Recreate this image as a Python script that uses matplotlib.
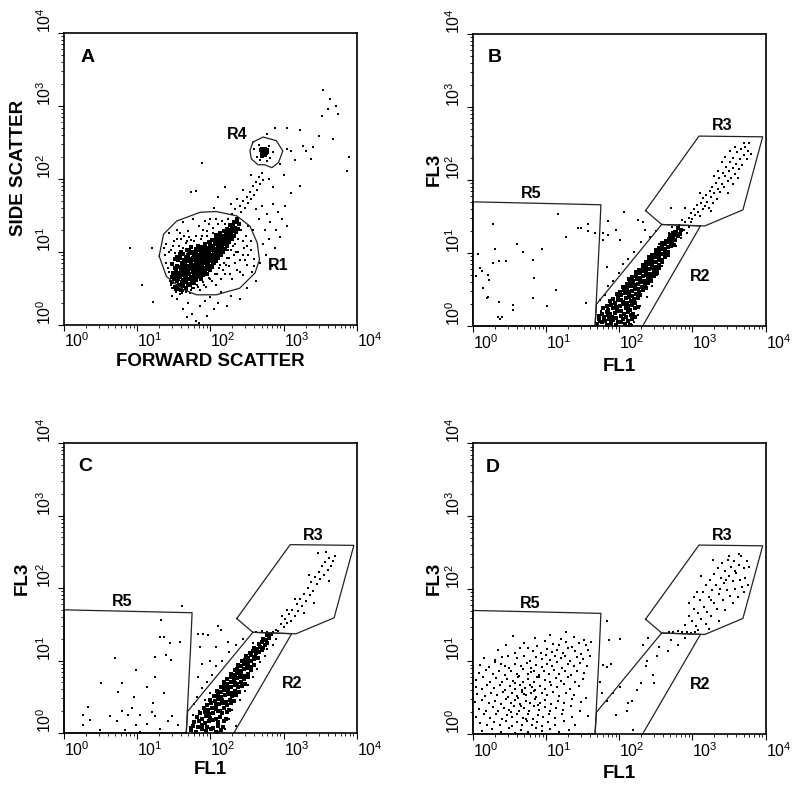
import numpy as np
import matplotlib
matplotlib.use('Agg')
import matplotlib.pyplot as plt

# Flow cytometry dot plots (four panels), values stored as log10 of channel value

plt.rcParams['font.family'] = ['Liberation Sans', 'DejaVu Sans']
plt.rcParams['mathtext.default'] = 'regular'

# ---- gates (log10 units) ----
gate_r1 = [(1.30, 0.94), (1.36, 1.24), (1.54, 1.42), (1.86, 1.54), (2.08, 1.55), (2.36, 1.49),
           (2.54, 1.35), (2.64, 1.12), (2.67, 0.89), (2.61, 0.71), (2.40, 0.50), (2.08, 0.41),
           (1.81, 0.41), (1.61, 0.49), (1.40, 0.66), (1.30, 0.94)]
gate_r4 = [(2.58, 2.50), (2.72, 2.57), (2.90, 2.52), (2.99, 2.38), (2.93, 2.22), (2.84, 2.15),
           (2.74, 2.19), (2.65, 2.19), (2.56, 2.27), (2.54, 2.38), (2.58, 2.50)]
gate_r5 = [(0.0, 1.70), (0.45, 1.69), (1.32, 1.67), (1.75, 1.66), (1.73, 1.20), (1.70, 0.60),
           (1.67, 0.0), (0.0, 0.0), (0.0, 1.70)]
gate_r2 = [(1.67, 0.0), (1.69, 0.30), (2.58, 1.39), (3.11, 1.37), (2.32, 0.0)]
gate_r3 = [(2.36, 1.58), (3.09, 2.60), (3.96, 2.59), (3.69, 1.59), (3.17, 1.37), (2.58, 1.39),
           (2.36, 1.58)]

# ---- panel A: forward scatter vs side scatter ----
a_core = [(1.48, 0.58), (1.49, 0.71), (1.47, 0.83), (1.48, 0.66),
          (1.51, 0.52), (1.50, 0.63), (1.52, 0.77), (1.51, 0.90), (1.50, 0.70),
          (1.54, 0.49), (1.55, 0.60), (1.53, 0.68), (1.54, 0.81), (1.55, 0.93), (1.53, 0.74),
          (1.57, 0.55), (1.56, 0.62), (1.58, 0.71), (1.57, 0.79), (1.56, 0.88), (1.58, 0.97), (1.57, 0.66),
          (1.60, 0.47), (1.61, 0.58), (1.59, 0.65), (1.60, 0.73), (1.61, 0.84), (1.59, 0.91), (1.60, 1.00), (1.62, 0.69),
          (1.63, 0.53), (1.62, 0.61), (1.64, 0.68), (1.63, 0.76), (1.62, 0.82), (1.64, 0.89), (1.63, 0.97), (1.65, 0.72),
          (1.66, 0.50), (1.67, 0.59), (1.65, 0.64), (1.66, 0.71), (1.67, 0.78), (1.65, 0.85), (1.66, 0.93), (1.68, 1.03), (1.67, 0.67),
          (1.69, 0.56), (1.68, 0.62), (1.70, 0.69), (1.69, 0.74), (1.68, 0.81), (1.70, 0.87), (1.69, 0.95), (1.71, 1.01), (1.70, 0.77),
          (1.72, 0.54), (1.73, 0.63), (1.71, 0.70), (1.72, 0.76), (1.73, 0.83), (1.71, 0.90), (1.72, 0.98), (1.74, 1.06), (1.73, 0.66),
          (1.75, 0.59), (1.74, 0.66), (1.76, 0.72), (1.75, 0.79), (1.74, 0.85), (1.76, 0.92), (1.75, 1.00), (1.77, 0.75), (1.76, 0.88),
          (1.78, 0.57), (1.79, 0.64), (1.77, 0.71), (1.78, 0.77), (1.79, 0.82), (1.77, 0.89), (1.78, 0.95), (1.80, 1.04), (1.79, 0.68),
          (1.81, 0.61), (1.80, 0.68), (1.82, 0.74), (1.81, 0.80), (1.80, 0.86), (1.82, 0.92), (1.81, 0.99), (1.83, 1.08), (1.82, 0.83),
          (1.84, 0.65), (1.85, 0.71), (1.83, 0.77), (1.84, 0.83), (1.85, 0.89), (1.83, 0.95), (1.84, 1.02), (1.86, 0.74), (1.85, 0.92),
          (1.87, 0.63), (1.86, 0.70), (1.88, 0.76), (1.87, 0.81), (1.86, 0.87), (1.88, 0.93), (1.87, 0.98), (1.89, 1.06), (1.88, 0.84),
          (1.90, 0.68), (1.91, 0.74), (1.89, 0.80), (1.90, 0.86), (1.91, 0.91), (1.89, 0.97), (1.90, 1.03), (1.92, 1.11), (1.91, 0.77),
          (1.93, 0.72), (1.92, 0.78), (1.94, 0.84), (1.93, 0.89), (1.92, 0.95), (1.94, 1.01), (1.93, 1.07), (1.95, 0.92),
          (1.96, 0.70), (1.97, 0.76), (1.95, 0.82), (1.96, 0.88), (1.97, 0.93), (1.95, 0.99), (1.96, 1.05), (1.98, 1.13), (1.97, 0.85),
          (1.99, 0.75), (1.98, 0.81), (2.00, 0.87), (1.99, 0.92), (1.98, 0.98), (2.00, 1.04), (1.99, 1.10), (2.01, 0.95),
          (2.02, 0.79), (2.03, 0.85), (2.01, 0.91), (2.02, 0.96), (2.03, 1.02), (2.01, 1.08), (2.02, 1.16), (2.04, 0.88),
          (2.05, 0.84), (2.04, 0.90), (2.06, 0.95), (2.05, 1.01), (2.04, 1.06), (2.06, 1.12), (2.05, 0.98), (2.07, 1.19),
          (2.08, 0.87), (2.09, 0.93), (2.07, 0.99), (2.08, 1.04), (2.09, 1.10), (2.07, 1.16), (2.08, 1.23),
          (2.11, 0.91), (2.10, 0.97), (2.12, 1.03), (2.11, 1.08), (2.10, 1.14), (2.12, 1.20), (2.11, 1.00),
          (2.14, 0.95), (2.15, 1.01), (2.13, 1.07), (2.14, 1.12), (2.15, 1.18), (2.13, 1.25), (2.14, 1.04),
          (2.17, 1.00), (2.16, 1.06), (2.18, 1.11), (2.17, 1.16), (2.16, 1.22), (2.18, 1.29),
          (2.20, 1.04), (2.21, 1.10), (2.19, 1.15), (2.20, 1.20), (2.21, 1.26), (2.19, 1.13),
          (2.23, 1.08), (2.22, 1.14), (2.24, 1.19), (2.23, 1.25), (2.22, 1.31),
          (2.26, 1.13), (2.27, 1.18), (2.25, 1.24), (2.26, 1.30), (2.27, 1.36),
          (2.29, 1.17), (2.28, 1.23), (2.30, 1.28), (2.29, 1.34),
          (2.32, 1.22), (2.33, 1.28), (2.31, 1.35), (2.32, 1.41),
          (2.35, 1.27), (2.34, 1.33), (2.36, 1.40),
          (2.38, 1.31), (2.39, 1.38), (2.37, 1.45)]
a_r4_core = [(2.70, 2.37), (2.72, 2.39), (2.74, 2.36), (2.73, 2.40), (2.75, 2.38), (2.71, 2.35),
             (2.76, 2.35), (2.72, 2.33), (2.74, 2.41), (2.77, 2.39), (2.69, 2.39), (2.73, 2.36),
             (2.75, 2.33), (2.70, 2.41), (2.78, 2.36), (2.71, 2.31)]
a_sparse = [(1.38, 0.95), (1.42, 0.78), (1.40, 1.10), (1.45, 0.60), (1.46, 1.02), (1.44, 1.25), (1.48, 0.50),
            (1.50, 1.15), (1.52, 0.98), (1.53, 0.45), (1.55, 1.30), (1.57, 1.08), (1.58, 0.42), (1.60, 1.18),
            (1.62, 1.40), (1.63, 0.46), (1.66, 1.12), (1.68, 0.48), (1.70, 1.28), (1.72, 0.44), (1.74, 1.16),
            (1.76, 1.45), (1.78, 0.50), (1.80, 1.22), (1.82, 0.55), (1.85, 1.35), (1.86, 0.48), (1.88, 1.22),
            (1.90, 0.58), (1.92, 1.42), (1.94, 0.52), (1.96, 1.28), (1.98, 0.64), (2.00, 1.45), (2.02, 0.60),
            (2.04, 1.32), (2.06, 0.70), (2.08, 0.55), (2.10, 1.38), (2.12, 0.78), (2.14, 0.62), (2.16, 1.42),
            (2.18, 0.85), (2.20, 0.70), (2.22, 0.92), (2.24, 1.45), (2.26, 0.80), (2.28, 1.02), (2.30, 0.62),
            (2.32, 0.95), (2.34, 1.10), (2.36, 0.75), (2.38, 1.18), (2.40, 0.88), (2.42, 1.30), (2.44, 0.68),
            (2.46, 1.05), (2.48, 1.22), (2.50, 0.82), (2.52, 0.95), (2.55, 1.15), (2.57, 0.72), (2.58, 1.30),
            (2.60, 0.90), (1.47, 0.70), (1.52, 0.88), (1.56, 0.60), (1.62, 1.05), (1.68, 1.15), (1.75, 0.50),
            (2.18, 0.98), (2.25, 0.92), (2.35, 1.00), (2.45, 0.95), (2.50, 1.08),
            (1.40, 0.85), (1.43, 1.00), (1.46, 0.55), (1.49, 1.08), (1.51, 0.47), (1.54, 1.18), (1.58, 1.25),
            (1.61, 0.44), (1.64, 1.22), (1.67, 0.45), (1.71, 1.20), (1.74, 0.48), (1.78, 1.15), (1.83, 0.52),
            (1.87, 1.18), (1.91, 0.55), (1.95, 1.22), (2.00, 0.62), (2.04, 1.25), (2.09, 0.70), (2.13, 0.82),
            (2.17, 0.75), (2.21, 0.82), (2.24, 1.02), (2.27, 0.70), (2.31, 1.08), (2.34, 0.85), (2.38, 1.00),
            (2.41, 0.72), (2.44, 1.15), (2.47, 0.88), (2.52, 1.35), (2.56, 1.02), (2.59, 0.80), (1.36, 1.05),
            (1.44, 0.72), (1.98, 1.38), (2.08, 1.45), (2.20, 1.38), (1.90, 1.30),
            (0.90, 1.05), (1.07, 0.54), (1.22, 0.31), (1.20, 1.05), (1.55, 0.35), (1.62, 0.22), (1.70, 0.30),
            (1.75, 0.15), (1.80, 0.05), (1.86, 0.25), (1.92, 0.32), (1.95, 0.12), (2.00, 0.38), (2.05, 0.22),
            (2.10, 0.30), (2.15, 0.45), (2.28, 0.40), (2.40, 0.35), (1.48, 0.40), (1.68, 0.10), (2.22, 0.25),
            (1.85, 0.02),
            (2.30, 1.52), (2.34, 1.58), (2.38, 1.46), (2.40, 1.62), (2.42, 1.55), (2.45, 1.70), (2.47, 1.60),
            (2.50, 1.75), (2.52, 1.66), (2.54, 1.82), (2.56, 1.72), (2.58, 1.90), (2.60, 1.78), (2.62, 1.95),
            (2.64, 1.85), (2.66, 2.02), (2.68, 1.92), (2.70, 2.08), (2.72, 1.98), (2.44, 1.85), (2.36, 1.72),
            (2.55, 2.05), (2.28, 1.65), (2.62, 1.58), (2.66, 1.45), (2.70, 1.62), (2.75, 1.30), (2.78, 1.52),
            (2.80, 1.18), (2.82, 1.40), (2.85, 1.65), (2.88, 1.05), (2.90, 1.30), (2.92, 1.55), (2.95, 1.20),
            (2.98, 1.45), (3.02, 1.62), (3.05, 1.35), (2.72, 1.10), (2.68, 0.85), (2.76, 0.95), (2.84, 0.80),
            (2.62, 0.60), (2.50, 0.50), (3.10, 1.80), (3.22, 1.90), (2.80, 2.00), (2.86, 1.88),
            (1.88, 2.22), (1.81, 1.83), (1.74, 1.82), (2.10, 1.75), (2.20, 1.88), (2.05, 1.60),
            (2.64, 2.30), (2.80, 2.45), (2.82, 2.28), (2.66, 2.46), (2.78, 2.24), (2.86, 2.36), (2.60, 2.40),
            (2.68, 2.25),
            (2.77, 2.61), (2.88, 2.70), (3.04, 2.70), (3.22, 2.66), (3.49, 2.59), (3.67, 2.54), (3.86, 2.11),
            (3.90, 2.29), (3.54, 3.21), (3.63, 3.09), (3.72, 3.00), (3.74, 2.89), (3.52, 2.86), (3.27, 2.45),
            (3.40, 2.43), (3.38, 2.27), (3.22, 1.90), (3.05, 2.40), (3.10, 2.38), (2.95, 2.20), (3.15, 2.25),
            (3.00, 2.05), (3.60, 2.95), (3.30, 2.38)]

# ---- panel B: FL1 vs FL3 ----
b_core = [(1.70, 0.03), (1.76, 0.05), (1.83, 0.02), (1.89, 0.04), (1.95, 0.01), (2.02, 0.05), (2.08, 0.03), (2.15, 0.02),
          (1.73, 0.09), (1.80, 0.07), (1.86, 0.10), (1.92, 0.08), (1.99, 0.06), (2.05, 0.09), (2.12, 0.07), (2.18, 0.10),
          (1.72, 0.14), (1.79, 0.12), (1.85, 0.15), (1.90, 0.13), (1.96, 0.11), (2.02, 0.14), (2.09, 0.12), (2.16, 0.15), (2.21, 0.13),
          (1.76, 0.17), (1.83, 0.19), (1.88, 0.16), (1.94, 0.18), (2.00, 0.20), (2.06, 0.17), (2.12, 0.19), (2.19, 0.16),
          (1.78, 0.24), (1.85, 0.22), (1.91, 0.25), (1.97, 0.23), (2.03, 0.21), (2.09, 0.24), (2.15, 0.22), (2.22, 0.25),
          (1.83, 0.27), (1.89, 0.29), (1.95, 0.26), (2.01, 0.28), (2.06, 0.30), (2.12, 0.27), (2.18, 0.29), (2.25, 0.26),
          (1.88, 0.34), (1.94, 0.32), (1.99, 0.35), (2.05, 0.33), (2.10, 0.31), (2.16, 0.34), (2.22, 0.32),
          (1.92, 0.37), (1.98, 0.39), (2.03, 0.36), (2.09, 0.38), (2.14, 0.40), (2.20, 0.37), (2.26, 0.39),
          (1.97, 0.44), (2.02, 0.42), (2.08, 0.45), (2.13, 0.43), (2.18, 0.41), (2.23, 0.44), (2.29, 0.42),
          (2.01, 0.47), (2.06, 0.49), (2.12, 0.46), (2.17, 0.48), (2.22, 0.50), (2.27, 0.47), (2.33, 0.49),
          (2.05, 0.54), (2.10, 0.52), (2.16, 0.55), (2.21, 0.53), (2.26, 0.51), (2.31, 0.54), (2.36, 0.52),
          (2.10, 0.57), (2.15, 0.59), (2.20, 0.56), (2.25, 0.58), (2.30, 0.60), (2.35, 0.57), (2.40, 0.59),
          (2.14, 0.64), (2.19, 0.62), (2.24, 0.65), (2.29, 0.63), (2.34, 0.61), (2.39, 0.64), (2.44, 0.62),
          (2.18, 0.67), (2.23, 0.69), (2.28, 0.66), (2.33, 0.68), (2.38, 0.70), (2.43, 0.67), (2.47, 0.69),
          (2.23, 0.74), (2.28, 0.72), (2.32, 0.75), (2.37, 0.73), (2.42, 0.71), (2.47, 0.74), (2.51, 0.72),
          (2.27, 0.77), (2.32, 0.79), (2.37, 0.76), (2.41, 0.78), (2.46, 0.80), (2.51, 0.77), (2.55, 0.79),
          (2.32, 0.84), (2.36, 0.82), (2.41, 0.85), (2.45, 0.83), (2.50, 0.81), (2.55, 0.84),
          (2.36, 0.87), (2.41, 0.89), (2.45, 0.86), (2.50, 0.88), (2.54, 0.90), (2.59, 0.87),
          (2.41, 0.94), (2.45, 0.92), (2.49, 0.95), (2.54, 0.93), (2.58, 0.91), (2.62, 0.94),
          (2.45, 0.97), (2.50, 0.99), (2.54, 0.96), (2.58, 0.98), (2.62, 1.00), (2.66, 0.97),
          (2.50, 1.04), (2.54, 1.02), (2.58, 1.05), (2.62, 1.03), (2.66, 1.01),
          (2.55, 1.07), (2.59, 1.09), (2.63, 1.06), (2.67, 1.08), (2.71, 1.10),
          (2.59, 1.14), (2.63, 1.12), (2.67, 1.15), (2.71, 1.13), (2.75, 1.11),
          (2.64, 1.17), (2.68, 1.19), (2.72, 1.16), (2.76, 1.18),
          (2.69, 1.24), (2.73, 1.22), (2.77, 1.25), (2.81, 1.23),
          (2.74, 1.27), (2.78, 1.29), (2.83, 1.26),
          (2.80, 1.34), (2.85, 1.32)]
b_sparse = [(1.72, 0.05), (1.75, 0.20), (1.74, 0.35), (1.80, 0.42), (1.78, 0.10), (2.20, 0.05), (2.25, 0.15),
            (2.28, 0.28), (2.18, 0.02), (1.85, 0.55), (1.92, 0.62), (2.00, 0.72), (2.05, 0.85), (2.12, 0.92),
            (2.20, 1.02), (2.30, 1.15), (2.38, 0.40), (2.45, 0.55), (2.52, 0.70), (2.58, 0.82), (2.62, 0.95),
            (2.55, 1.12), (2.42, 1.22), (2.50, 1.30), (2.78, 1.10), (2.85, 1.20), (2.88, 1.32), (2.82, 1.38),
            (2.90, 1.42), (2.95, 1.36), (2.75, 1.30), (2.68, 1.28), (2.72, 1.36), (2.92, 1.28), (2.86, 1.45),
            (2.98, 1.42), (1.90, 0.02), (2.10, 0.00), (1.96, 0.45),
            (1.85, 1.44), (1.96, 1.32), (2.07, 1.56), (2.25, 1.45), (2.01, 1.18), (2.35, 1.32), (1.78, 1.18),
            (1.83, 0.81), (1.85, 1.25), (2.32, 1.42), (2.71, 1.62), (1.78, 1.27)]
b_r3 = [(2.95, 1.48), (2.98, 1.55), (3.00, 1.46), (3.02, 1.60), (3.04, 1.52), (3.06, 1.65), (3.08, 1.56),
        (3.10, 1.50), (3.12, 1.68), (3.14, 1.60), (3.15, 1.75), (3.17, 1.64), (3.19, 1.80), (3.20, 1.70),
        (3.22, 1.62), (3.24, 1.85), (3.25, 1.76), (3.27, 1.90), (3.28, 1.68), (3.30, 1.82), (3.32, 1.96),
        (3.33, 1.74), (3.35, 1.88), (3.37, 2.02), (3.38, 1.84), (3.40, 1.95), (3.42, 2.10), (3.43, 1.90),
        (3.45, 2.05), (3.46, 2.18), (3.48, 1.98), (3.50, 2.12), (3.51, 2.25), (3.53, 2.02), (3.55, 2.16),
        (3.56, 2.30), (3.58, 2.08), (3.60, 2.22), (3.61, 2.38), (3.63, 2.15), (3.65, 2.28), (3.66, 2.42),
        (3.68, 2.20), (3.70, 2.34), (3.72, 2.45), (3.74, 2.28), (3.76, 2.40), (3.78, 2.50), (3.45, 2.32),
        (3.52, 2.40), (3.40, 2.25), (3.58, 2.45), (3.35, 2.12), (3.62, 2.02), (3.48, 1.82), (3.30, 2.05),
        (3.25, 1.58), (3.10, 1.82), (2.90, 1.62), (3.80, 2.35), (3.70, 2.50), (3.55, 1.95)]
b_r5 = [(0.27, 1.39), (1.16, 1.53), (1.27, 1.22), (1.44, 1.34), (1.48, 1.34), (1.57, 1.39), (1.58, 1.30),
        (1.67, 1.28), (0.60, 1.12), (0.69, 1.02), (0.94, 1.05), (0.31, 1.05), (0.28, 0.86), (0.36, 0.89),
        (0.45, 0.89), (0.82, 0.90), (0.07, 0.99), (0.10, 0.79), (0.13, 0.75), (0.05, 0.69), (0.21, 0.70),
        (0.22, 0.63), (0.14, 0.52), (0.83, 0.66), (1.13, 0.49), (0.19, 0.38), (0.21, 0.40), (0.36, 0.33),
        (0.82, 0.39), (1.01, 0.28), (1.55, 0.32), (0.55, 0.29), (0.55, 0.22), (0.35, 0.13), (0.40, 0.13),
        (0.37, 0.09)]

# ---- panel C: FL1 vs FL3 ----
c_core = [(1.74, 0.04), (1.81, 0.02), (1.88, 0.05), (1.94, 0.03), (2.01, 0.06), (2.07, 0.02), (2.14, 0.04),
          (1.76, 0.10), (1.83, 0.08), (1.89, 0.11), (1.96, 0.09), (2.03, 0.07), (2.10, 0.10), (2.17, 0.08),
          (1.78, 0.15), (1.85, 0.17), (1.92, 0.14), (1.98, 0.16), (2.04, 0.18), (2.11, 0.15), (2.19, 0.17),
          (1.82, 0.22), (1.88, 0.20), (1.94, 0.23), (2.00, 0.21), (2.07, 0.19), (2.13, 0.22), (2.21, 0.20),
          (1.86, 0.27), (1.92, 0.29), (1.98, 0.26), (2.04, 0.28), (2.10, 0.30), (2.16, 0.27), (2.23, 0.29),
          (1.91, 0.34), (1.97, 0.32), (2.02, 0.35), (2.08, 0.33), (2.13, 0.31), (2.19, 0.34), (2.25, 0.32),
          (1.96, 0.39), (2.01, 0.41), (2.07, 0.38), (2.12, 0.40), (2.17, 0.42), (2.23, 0.39), (2.28, 0.41),
          (2.00, 0.46), (2.06, 0.44), (2.11, 0.47), (2.16, 0.45), (2.21, 0.43), (2.27, 0.46), (2.32, 0.44),
          (2.05, 0.51), (2.10, 0.53), (2.15, 0.50), (2.20, 0.52), (2.25, 0.54), (2.30, 0.51), (2.35, 0.53),
          (2.09, 0.58), (2.14, 0.56), (2.19, 0.59), (2.24, 0.57), (2.29, 0.55), (2.34, 0.58), (2.39, 0.56),
          (2.14, 0.63), (2.19, 0.65), (2.24, 0.62), (2.28, 0.64), (2.33, 0.66), (2.38, 0.63), (2.43, 0.65),
          (2.19, 0.70), (2.23, 0.68), (2.28, 0.71), (2.33, 0.69), (2.37, 0.67), (2.42, 0.70), (2.47, 0.68),
          (2.23, 0.75), (2.28, 0.77), (2.32, 0.74), (2.37, 0.76), (2.41, 0.78), (2.46, 0.75), (2.51, 0.77),
          (2.28, 0.82), (2.33, 0.80), (2.37, 0.83), (2.42, 0.81), (2.46, 0.79), (2.51, 0.82),
          (2.33, 0.87), (2.37, 0.89), (2.42, 0.86), (2.46, 0.88), (2.50, 0.90), (2.55, 0.87),
          (2.38, 0.94), (2.42, 0.92), (2.46, 0.95), (2.51, 0.93), (2.55, 0.91), (2.59, 0.94),
          (2.43, 0.99), (2.47, 1.01), (2.51, 0.98), (2.56, 1.00), (2.60, 1.02),
          (2.48, 1.06), (2.52, 1.04), (2.56, 1.07), (2.61, 1.05), (2.65, 1.03),
          (2.54, 1.11), (2.58, 1.13), (2.62, 1.10), (2.66, 1.12), (2.70, 1.14),
          (2.60, 1.18), (2.64, 1.16), (2.68, 1.19), (2.72, 1.17),
          (2.66, 1.23), (2.70, 1.25), (2.74, 1.22), (2.78, 1.24),
          (2.72, 1.30), (2.76, 1.28), (2.80, 1.31),
          (2.78, 1.35), (2.83, 1.37)]
c_sparse = [(1.72, 0.08), (1.76, 0.25), (1.78, 0.40), (1.82, 0.50), (2.20, 0.06), (2.26, 0.20), (2.30, 0.32),
            (1.88, 0.62), (1.95, 0.70), (2.02, 0.80), (2.08, 0.92), (2.16, 1.00), (2.25, 1.12), (2.35, 1.22),
            (2.40, 0.45), (2.47, 0.58), (2.52, 0.66), (2.58, 0.78), (2.63, 0.88), (2.68, 0.98), (2.74, 1.06),
            (2.78, 1.16), (2.86, 1.22), (2.90, 1.30), (2.45, 1.30), (2.58, 1.24), (1.85, 0.30), (1.92, 0.45),
            (2.12, 0.02), (2.35, 0.10), (2.00, 0.55),
            (2.62, 1.40), (2.70, 1.41), (2.78, 1.39), (2.85, 1.40), (2.92, 1.41),
            (1.83, 1.37), (1.90, 1.36), (1.97, 1.35), (2.11, 1.48), (2.14, 1.42), (1.86, 1.19), (2.08, 1.19),
            (2.24, 1.26), (1.83, 0.78), (2.00, 1.00), (1.88, 0.95)]
c_r3 = [(2.90, 1.42), (2.96, 1.50), (3.00, 1.46), (3.02, 1.58), (3.05, 1.52), (3.08, 1.64), (3.10, 1.55),
        (3.12, 1.70), (3.15, 1.62), (3.18, 1.78), (3.20, 1.68), (3.22, 1.85), (3.25, 1.75), (3.28, 1.92),
        (3.30, 1.82), (3.33, 2.00), (3.36, 1.90), (3.38, 2.08), (3.40, 1.96), (3.43, 2.15), (3.45, 2.05),
        (3.48, 2.22), (3.50, 2.12), (3.52, 2.30), (3.55, 2.18), (3.57, 2.36), (3.60, 2.25), (3.62, 2.42),
        (3.65, 2.30), (3.68, 2.38), (3.47, 2.48), (3.58, 2.50), (3.70, 2.45), (3.35, 2.18), (3.15, 1.85),
        (3.42, 1.80), (3.62, 2.10), (3.28, 1.65), (3.05, 1.70), (2.98, 1.62)]
c_r5 = [(1.33, 1.56), (1.61, 1.76), (1.31, 1.33), (1.37, 1.33), (1.45, 1.24), (1.58, 1.25), (1.24, 1.05),
        (1.40, 1.08), (1.46, 1.01), (0.70, 1.03), (0.99, 0.87), (0.51, 0.69), (0.79, 0.69), (0.74, 0.56),
        (1.13, 0.64), (0.95, 0.50), (1.22, 0.41), (0.33, 0.36), (0.26, 0.25), (0.35, 0.18), (0.49, 0.04),
        (0.72, 0.16), (0.88, 0.25), (0.93, 0.34), (1.04, 0.25), (1.13, 0.13), (1.20, 0.29), (1.24, 0.23),
        (1.31, 0.06), (1.42, 0.16), (1.47, 0.23), (1.56, 0.11), (0.26, 0.11), (0.99, 0.11), (0.83, 0.04),
        (1.04, 0.02), (0.63, 0.23), (0.79, 0.31), (1.36, 0.55), (1.24, 0.78)]

# ---- panel D: FL1 vs FL3 ----
d_r5 = [(0.85, 1.32), (1.05, 1.36), (1.20, 1.31), (1.38, 1.33), (0.55, 1.35), (1.52, 1.30), (1.28, 1.40),
        (0.45, 1.22), (0.70, 1.25), (0.88, 1.21), (0.98, 1.28), (1.10, 1.24), (1.18, 1.22), (1.27, 1.26),
        (1.35, 1.20), (1.45, 1.25), (1.55, 1.23), (1.62, 1.27),
        (0.35, 1.15), (0.58, 1.12), (0.75, 1.18), (0.82, 1.14), (0.93, 1.11), (1.02, 1.17), (1.08, 1.13),
        (1.15, 1.16), (1.23, 1.12), (1.30, 1.18), (1.40, 1.14), (1.48, 1.10), (1.58, 1.16), (0.65, 1.19),
        (0.15, 1.05), (0.30, 1.02), (0.48, 1.08), (0.60, 1.04), (0.70, 1.07), (0.78, 1.01), (0.86, 1.06),
        (0.94, 1.03), (1.00, 1.09), (1.06, 1.02), (1.12, 1.07), (1.20, 1.04), (1.26, 1.08), (1.33, 1.01),
        (1.42, 1.06), (1.50, 1.03), (1.60, 1.08), (0.40, 1.06),
        (0.10, 0.95), (0.22, 0.92), (0.38, 0.97), (0.50, 0.91), (0.58, 0.96), (0.66, 0.93), (0.74, 0.98),
        (0.80, 0.91), (0.87, 0.95), (0.95, 0.92), (1.02, 0.97), (1.08, 0.93), (1.15, 0.99), (1.22, 0.91),
        (1.30, 0.96), (1.38, 0.93), (1.46, 0.98), (1.56, 0.94), (0.30, 0.99), (0.44, 0.93),
        (0.08, 0.84), (0.18, 0.88), (0.28, 0.82), (0.36, 0.87), (0.44, 0.81), (0.52, 0.86), (0.60, 0.83),
        (0.68, 0.89), (0.75, 0.82), (0.83, 0.87), (0.90, 0.81), (0.97, 0.86), (1.04, 0.83), (1.11, 0.88),
        (1.18, 0.82), (1.26, 0.86), (1.34, 0.81), (1.42, 0.87), (1.52, 0.84), (0.63, 0.80), (0.79, 0.85),
        (0.05, 0.74), (0.14, 0.78), (0.24, 0.72), (0.32, 0.77), (0.40, 0.71), (0.47, 0.76), (0.55, 0.73),
        (0.62, 0.78), (0.69, 0.71), (0.76, 0.75), (0.84, 0.72), (0.91, 0.78), (0.98, 0.74), (1.06, 0.71),
        (1.13, 0.77), (1.21, 0.73), (1.30, 0.78), (1.40, 0.72), (1.50, 0.76), (0.58, 0.70), (0.88, 0.79),
        (0.04, 0.65), (0.12, 0.62), (0.20, 0.68), (0.29, 0.63), (0.37, 0.67), (0.44, 0.61), (0.51, 0.66),
        (0.57, 0.62), (0.64, 0.68), (0.71, 0.63), (0.78, 0.67), (0.85, 0.61), (0.92, 0.66), (0.99, 0.62),
        (1.07, 0.68), (1.15, 0.64), (1.24, 0.69), (1.33, 0.62), (1.45, 0.66), (0.67, 0.60), (0.81, 0.64),
        (0.06, 0.55), (0.16, 0.52), (0.25, 0.57), (0.33, 0.53), (0.41, 0.58), (0.48, 0.51), (0.54, 0.56),
        (0.60, 0.52), (0.67, 0.58), (0.73, 0.53), (0.80, 0.57), (0.87, 0.51), (0.94, 0.56), (1.01, 0.53),
        (1.09, 0.58), (1.18, 0.52), (1.27, 0.57), (1.38, 0.54), (1.55, 0.50), (0.70, 0.55), (0.84, 0.59),
        (0.03, 0.44), (0.13, 0.47), (0.22, 0.42), (0.30, 0.46), (0.38, 0.41), (0.45, 0.48), (0.52, 0.43),
        (0.58, 0.47), (0.65, 0.41), (0.72, 0.46), (0.78, 0.42), (0.85, 0.48), (0.92, 0.43), (0.99, 0.47),
        (1.07, 0.41), (1.16, 0.46), (1.25, 0.42), (1.36, 0.48), (1.48, 0.44), (0.62, 0.49), (0.89, 0.40),
        (0.08, 0.35), (0.18, 0.32), (0.27, 0.37), (0.35, 0.31), (0.42, 0.36), (0.49, 0.33), (0.56, 0.38),
        (0.63, 0.31), (0.70, 0.36), (0.77, 0.32), (0.84, 0.38), (0.91, 0.33), (0.98, 0.37), (1.06, 0.31),
        (1.14, 0.36), (1.23, 0.33), (1.34, 0.38), (1.47, 0.32), (0.66, 0.39), (0.52, 0.30),
        (0.05, 0.24), (0.15, 0.28), (0.24, 0.22), (0.32, 0.27), (0.40, 0.21), (0.47, 0.26), (0.54, 0.23),
        (0.61, 0.28), (0.68, 0.22), (0.75, 0.27), (0.82, 0.21), (0.89, 0.26), (0.96, 0.23), (1.04, 0.28),
        (1.12, 0.22), (1.22, 0.27), (1.35, 0.23), (1.58, 0.25), (0.72, 0.20),
        (0.10, 0.15), (0.20, 0.12), (0.29, 0.17), (0.37, 0.13), (0.45, 0.18), (0.53, 0.11), (0.60, 0.16),
        (0.67, 0.12), (0.74, 0.18), (0.81, 0.13), (0.88, 0.17), (0.95, 0.11), (1.03, 0.16), (1.12, 0.13),
        (1.25, 0.18), (1.40, 0.12),
        (0.12, 0.04), (0.26, 0.07), (0.38, 0.03), (0.50, 0.08), (0.58, 0.02), (0.66, 0.06), (0.76, 0.03),
        (0.86, 0.08), (0.94, 0.04), (1.05, 0.07), (1.18, 0.03), (1.32, 0.06)]
d_r2 = [(2.01, 0.65), (1.92, 0.56), (2.17, 0.45), (2.12, 0.42), (2.24, 0.61), (1.96, 0.26), (2.10, 0.32),
        (2.37, 0.93), (2.38, 1.00), (2.51, 1.07), (2.55, 1.20), (2.71, 1.30), (2.67, 1.14), (2.80, 1.23),
        (2.46, 0.81), (2.30, 0.70), (2.90, 1.32), (2.19, 0.06), (1.83, 0.45), (2.48, 0.70),
        (1.83, 1.56), (2.01, 1.31), (1.86, 1.29), (1.78, 0.95), (1.84, 0.92), (1.89, 0.97), (1.76, 0.56),
        (1.74, 0.72), (2.33, 1.23), (2.40, 1.32)]
d_r3 = [(2.68, 1.41), (2.74, 1.40), (2.80, 1.42), (2.86, 1.40), (2.92, 1.41), (2.98, 1.39), (3.04, 1.40),
        (3.08, 1.43), (2.90, 1.50), (2.96, 1.62), (3.00, 1.55), (3.02, 1.72), (3.05, 1.48), (3.08, 1.66),
        (3.10, 1.85), (3.12, 1.58), (3.14, 1.95), (3.16, 1.75), (3.18, 2.05), (3.20, 1.68), (3.22, 1.88),
        (3.24, 2.12), (3.25, 1.62), (3.27, 1.98), (3.29, 2.20), (3.30, 1.80), (3.32, 2.05), (3.34, 1.72),
        (3.35, 2.28), (3.37, 1.92), (3.39, 2.15), (3.40, 2.35), (3.42, 1.85), (3.43, 2.08), (3.45, 2.25),
        (3.47, 1.98), (3.48, 2.40), (3.50, 2.18), (3.52, 1.90), (3.53, 2.30), (3.55, 2.10), (3.57, 2.38),
        (3.58, 2.00), (3.60, 2.22), (3.62, 1.88), (3.63, 2.32), (3.65, 2.12), (3.67, 2.45), (3.68, 2.02),
        (3.70, 2.28), (3.72, 2.15), (3.74, 2.38), (3.76, 2.05), (3.12, 2.18), (3.06, 1.95), (3.28, 2.40),
        (3.44, 1.70), (3.56, 1.80), (3.36, 1.55), (3.18, 1.52), (3.64, 2.48), (3.50, 2.45), (3.02, 1.88),
        (3.26, 1.85), (3.46, 2.12), (3.38, 2.00), (3.58, 2.25), (3.70, 1.95), (3.78, 2.30), (3.22, 1.45),
        (2.95, 1.80)]

fig = plt.figure(figsize=(8, 7.94), dpi=100)


def dots(ax, pts, s):
    arr = np.array(pts)
    ax.scatter(10 ** arr[:, 0], 10 ** arr[:, 1], s=s, c='black', marker='s', linewidths=0)


def gate(ax, pts):
    arr = np.array(pts)
    ax.plot(10 ** arr[:, 0], 10 ** arr[:, 1], color='#222222', lw=0.9, clip_on=False)


def label(ax, text, x, y):
    ax.text(10 ** x, 10 ** y, text, fontsize=11.5, fontweight='bold', ha='center', va='center')


def setup(ax, letter, lx, ly, xlab, ylab, xlab_y, ylab_x):
    ax.set_xscale('log')
    ax.set_yscale('log')
    ax.set_xlim(1, 1e4)
    ax.set_ylim(1, 1e4)
    ax.set_xticks([1, 10, 100, 1000, 10000])
    ax.set_yticks([1, 10, 100, 1000, 10000])
    for sp in ax.spines.values():
        sp.set_linewidth(1.2)
    ax.tick_params(which='major', direction='out', length=4, width=0.8, labelsize=11.5, pad=1)
    ax.tick_params(which='minor', direction='out', length=2, width=0.6)
    ax.tick_params(axis='y', labelrotation=90, pad=3)
    for t in ax.get_xticklabels():
        t.set_ha('left')
    for t in ax.get_yticklabels():
        t.set_va('bottom')
        t.set_ha('right')
    ax.text(lx, ly, letter, transform=ax.transAxes, fontsize=14, fontweight='bold',
            ha='center', va='center')
    ax.set_xlabel(xlab, fontsize=13.5, fontweight='bold')
    ax.set_ylabel(ylab, fontsize=13.5, fontweight='bold')
    ax.xaxis.label.set_va('center')
    ax.yaxis.label.set_va('center')
    ax.xaxis.set_label_coords(0.5, xlab_y)
    ax.yaxis.set_label_coords(ylab_x, 0.535)


axA = fig.add_axes([0.080, 0.591, 0.366, 0.368])
axB = fig.add_axes([0.591, 0.5894, 0.366, 0.368])
axC = fig.add_axes([0.080, 0.0768, 0.366, 0.365])
axD = fig.add_axes([0.591, 0.0756, 0.366, 0.366])

small = 1.5
big = 8

# panel A
dots(axA, a_sparse, small)
dots(axA, a_core, big)
dots(axA, a_r4_core, big)
gate(axA, gate_r1)
gate(axA, gate_r4)
label(axA, 'R4', 2.36, 2.61)
label(axA, 'R1', 2.92, 0.81)
setup(axA, 'A', 0.082, 0.914, 'FORWARD SCATTER', 'SIDE SCATTER', -0.127, -0.157)

# panel B
dots(axB, b_sparse, small)
dots(axB, b_r3, small)
dots(axB, b_r5, small)
dots(axB, b_core, big)
for g in (gate_r5, gate_r2, gate_r3):
    gate(axB, g)
label(axB, 'R5', 0.80, 1.82)
label(axB, 'R3', 3.41, 2.74)
label(axB, 'R2', 3.11, 0.68)
setup(axB, 'B', 0.075, 0.918, 'FL1', 'FL3', -0.14, -0.13)

# panel C
dots(axC, c_sparse, small)
dots(axC, c_r3, small)
dots(axC, c_r5, small)
dots(axC, c_core, big)
for g in (gate_r5, gate_r2, gate_r3):
    gate(axC, g)
label(axC, 'R5', 0.79, 1.81)
label(axC, 'R3', 3.40, 2.73)
label(axC, 'R2', 3.11, 0.69)
setup(axC, 'C', 0.072, 0.918, 'FL1', 'FL3', -0.127, -0.144)

# panel D
dots(axD, d_r5, small)
dots(axD, d_r2, small)
dots(axD, d_r3, small)
for g in (gate_r5, gate_r2, gate_r3):
    gate(axD, g)
label(axD, 'R5', 0.78, 1.80)
label(axD, 'R3', 3.41, 2.73)
label(axD, 'R2', 3.10, 0.68)
setup(axD, 'D', 0.069, 0.916, 'FL1', 'FL3', -0.136, -0.13)

fig.savefig('out.png', dpi=100)
